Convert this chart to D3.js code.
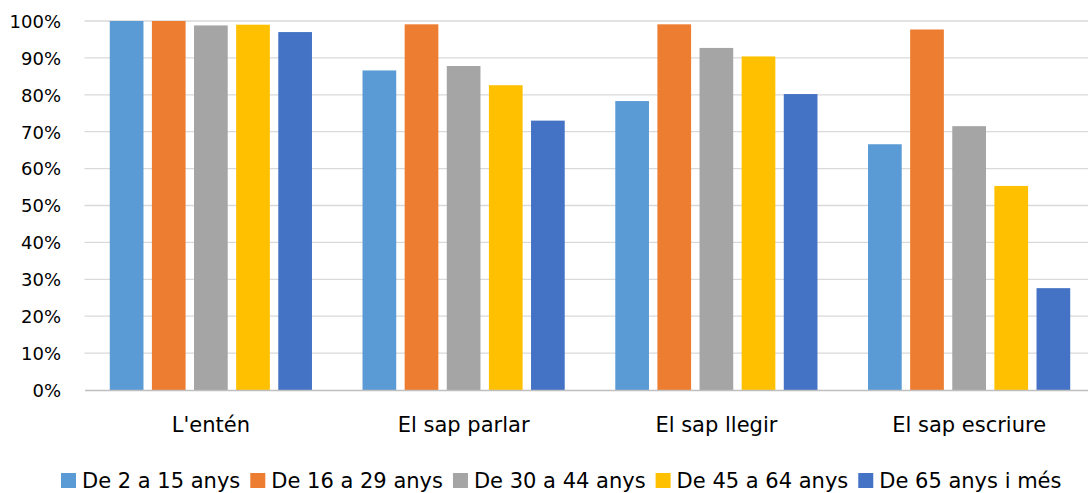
<!DOCTYPE html>
<html>
<head>
<meta charset="utf-8">
<script src="https://cdn.jsdelivr.net/npm/d3@7"></script>
<style>
  html, body { margin: 0; padding: 0; background: #fff; overflow: hidden; }
  svg { display: block; }
  text { font-family: "DejaVu Sans", sans-serif; fill: #000; }
</style>
</head>
<body>
<svg id="chart" width="1088" height="493"></svg>
<script>
const categories = ["L'entén", "El sap parlar", "El sap llegir", "El sap escriure"];
const seriesNames = ["De 2 a 15 anys", "De 16 a 29 anys", "De 30 a 44 anys", "De 45 a 64 anys", "De 65 anys i més"];
const seriesColors = ["#5b9bd5", "#ed7d31", "#a5a5a5", "#ffc000", "#4472c4"];
const values2to15 = [100, 86.6, 78.3, 66.6];
const values16to29 = [100, 99.1, 99.1, 97.7];
const values30to44 = [98.8, 87.8, 92.7, 71.5];
const values45to64 = [99.0, 82.6, 90.4, 55.3];
const values65plus = [97.0, 73.0, 80.2, 27.6];
const yTicks = [0, 10, 20, 30, 40, 50, 60, 70, 80, 90, 100];

const seriesValues = [values2to15, values16to29, values30to44, values45to64, values65plus];

const svg = d3.select("#chart");
const plotLeft = 84.5, plotRight = 1095.5, plotTop = 21, plotBottom = 390;

const x0 = d3.scaleBand().domain(categories).range([plotLeft, plotRight]).paddingInner(0).paddingOuter(0);
// Excel: gap width 150%, overlap -25%  => group = 5w + 4*0.25w + 1.5w = 7.5w
const w = x0.bandwidth() / 7.5;
const x1 = d3.scaleBand().domain(seriesNames)
  .range([0.75 * w, x0.bandwidth() - 0.75 * w])
  .paddingInner(0.2).paddingOuter(0);
const y = d3.scaleLinear().domain([0, 100]).range([plotBottom, plotTop]);

// gridlines
svg.append("g")
  .selectAll("line")
  .data(yTicks.filter(t => t > 0))
  .join("line")
  .attr("x1", plotLeft).attr("x2", plotRight)
  .attr("y1", d => y(d)).attr("y2", d => y(d))
  .attr("stroke", "#d9d9d9").attr("stroke-width", 1.3);

// y axis labels
const yAxis = d3.axisLeft(y).tickValues(yTicks).tickSize(0).tickPadding(0).tickFormat(d => d + "%");
const yg = svg.append("g").attr("transform", `translate(61,0)`).call(yAxis);
yg.select(".domain").remove();
yg.selectAll("text").attr("font-size", 18).attr("font-family", "DejaVu Sans").attr("fill", "#000").attr("dy", "0.35em");

// bars
const groups = svg.append("g").selectAll("g")
  .data(categories)
  .join("g")
  .attr("transform", d => `translate(${x0(d)},0)`);

groups.selectAll("rect")
  .data((c, i) => seriesNames.map((s, j) => ({ s, v: seriesValues[j][i], color: seriesColors[j] })))
  .join("rect")
  .attr("x", d => x1(d.s))
  .attr("width", x1.bandwidth())
  .attr("y", d => y(d.v))
  .attr("height", d => y(0) - y(d.v))
  .attr("fill", d => d.color);

// baseline axis
const xAxis = d3.axisBottom(x0).tickSize(0).tickPadding(0);
const xg = svg.append("g").attr("transform", `translate(0,${plotBottom})`).call(xAxis);
xg.select(".domain").attr("stroke", "#bfbfbf").attr("stroke-width", 1.5);
xg.selectAll("text").attr("font-size", 21).attr("font-family", "DejaVu Sans").attr("fill", "#000")
  .attr("y", 0).attr("dy", 0).attr("transform", "translate(0,42)");

// legend
const legend = svg.append("g");
let cx = 61;
seriesNames.forEach((name, j) => {
  const g = legend.append("g");
  g.append("rect").attr("x", cx).attr("y", 473).attr("width", 15).attr("height", 15).attr("fill", seriesColors[j]);
  const t = g.append("text").attr("x", cx + 21).attr("y", 488).attr("font-size", 21).text(name);
  cx += 21 + t.node().getComputedTextLength() + 10;
});
</script>
</body>
</html>
